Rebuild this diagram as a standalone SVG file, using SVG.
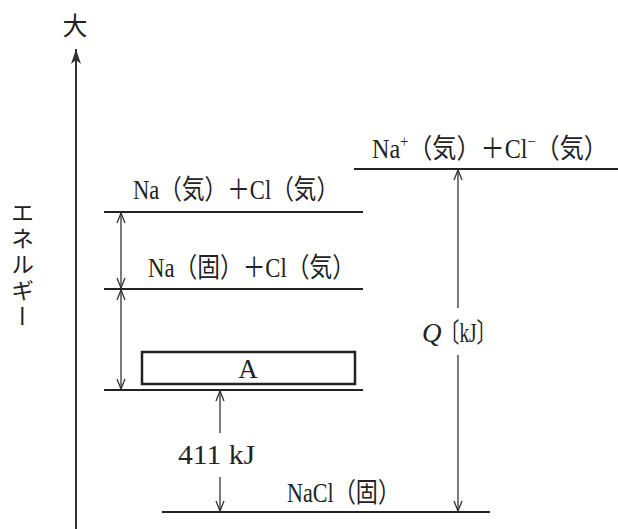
<svg xmlns="http://www.w3.org/2000/svg" width="618" height="529" viewBox="0 0 618 529">
<style>
.t{font-family:"Liberation Serif","Noto Sans CJK JP",serif;font-size:27px;fill:#222;}
.lvl{stroke:#222;stroke-width:2;fill:none;}
.arr{stroke:#333;stroke-width:1.3;fill:none;}
</style>
<defs>
<marker id="oa" viewBox="0 0 12 12" refX="11" refY="6" markerWidth="12" markerHeight="12" markerUnits="userSpaceOnUse" orient="auto-start-reverse">
<path d="M1,2 L11,6 L1,10" fill="none" stroke="#333" stroke-width="1.3"/>
</marker>
<marker id="ax" viewBox="0 0 16 12" refX="15" refY="6" markerWidth="16" markerHeight="12" markerUnits="userSpaceOnUse" orient="auto">
<path d="M0,1 L15,6 L0,11 L4,6 Z" fill="#333"/>
</marker>
</defs>
<rect width="618" height="529" fill="#fff"/>
<g id="axis">
<line x1="76" y1="529" x2="76" y2="49" stroke="#333" stroke-width="2" marker-end="url(#ax)"/>
<text class="t" x="75" y="35" text-anchor="middle" style="font-size:25px">大</text>
<text class="t" x="20" y="201" style="font-size:23px;writing-mode:vertical-rl;letter-spacing:3px">エネルギー</text>
</g>
<g id="level-ions">
<line class="lvl" x1="354" y1="169" x2="618" y2="169"/>
<text class="t" x="372" y="158" textLength="236" lengthAdjust="spacingAndGlyphs">Na<tspan style="font-size:16px" dy="-11">+</tspan><tspan dy="11">（気）＋Cl</tspan><tspan style="font-size:16px" dy="-11">−</tspan><tspan dy="11">（気）</tspan></text>
</g>
<g id="level-gas">
<line class="lvl" x1="104" y1="212" x2="363" y2="212"/>
<text class="t" x="133" y="199" textLength="206" lengthAdjust="spacingAndGlyphs">Na（気）＋Cl（気）</text>
</g>
<g id="level-solid-gas">
<line class="lvl" x1="104" y1="289" x2="363" y2="289"/>
<text class="t" x="148" y="277" textLength="207" lengthAdjust="spacingAndGlyphs">Na（固）＋Cl（気）</text>
</g>
<g id="level-A">
<line class="lvl" x1="104" y1="390" x2="363" y2="390"/>
<rect x="142" y="352" width="213" height="32" fill="none" stroke="#222" stroke-width="2.5"/>
<text class="t" x="248" y="378" text-anchor="middle">A</text>
</g>
<g id="level-NaCl">
<line class="lvl" x1="162" y1="512" x2="490" y2="512"/>
<text class="t" x="287" y="502" textLength="113" lengthAdjust="spacingAndGlyphs">NaCl（固）</text>
</g>
<g id="connectors">
<line class="arr" x1="121" y1="213" x2="121" y2="288" marker-start="url(#oa)" marker-end="url(#oa)"/>
<line class="arr" x1="121" y1="290" x2="121" y2="389" marker-start="url(#oa)" marker-end="url(#oa)"/>
<line class="arr" x1="220" y1="433" x2="220" y2="391" marker-end="url(#oa)"/>
<line class="arr" x1="220" y1="477" x2="220" y2="511" marker-end="url(#oa)"/>
<line class="arr" x1="458" y1="308" x2="458" y2="170" marker-end="url(#oa)"/>
<line class="arr" x1="458" y1="355" x2="458" y2="511" marker-end="url(#oa)"/>
</g>
<g id="labels">
<text class="t" x="178" y="464" textLength="77" lengthAdjust="spacingAndGlyphs">411 kJ</text>
<text class="t" x="422" y="342" style="font-style:italic">Q</text>
<text class="t" x="440" y="342" textLength="56" lengthAdjust="spacingAndGlyphs">〔kJ〕</text>
</g>
</svg>
